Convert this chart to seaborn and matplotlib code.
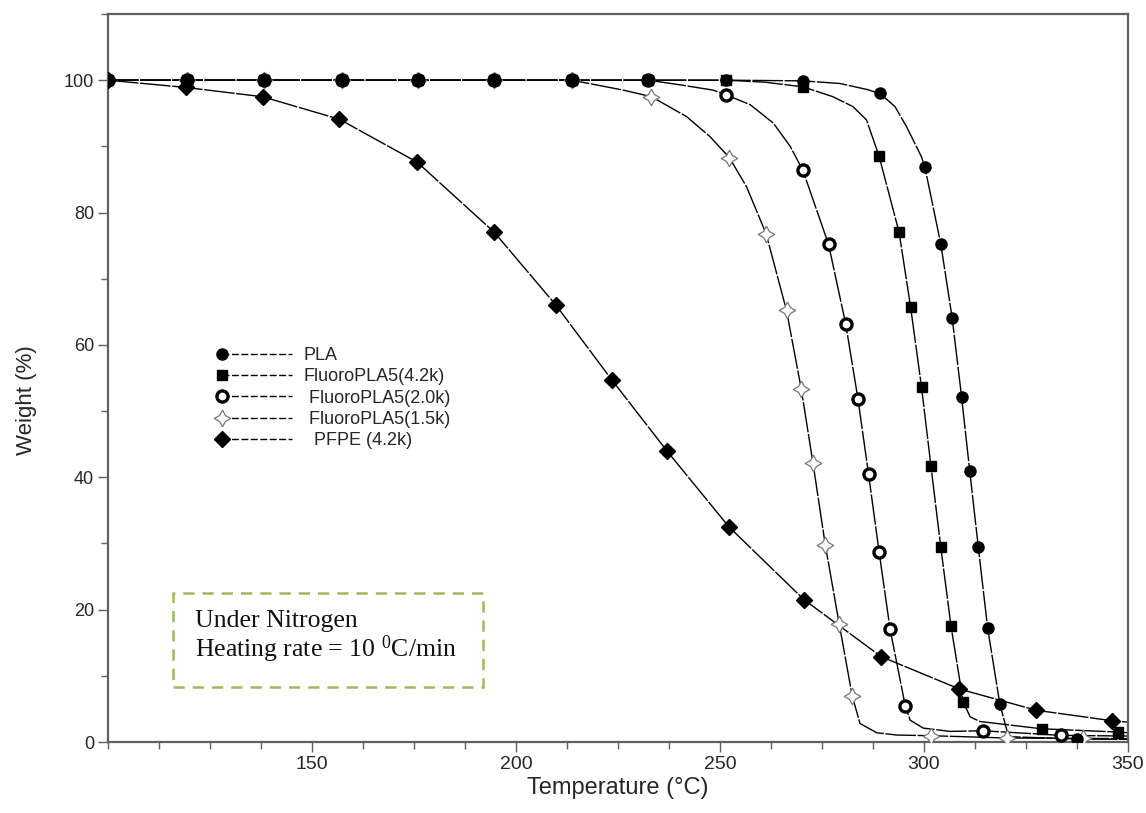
import numpy as np
import pandas as pd
import matplotlib
matplotlib.use("Agg")
import matplotlib.pyplot as plt
import seaborn as sns
from matplotlib.lines import Line2D
from matplotlib.patches import Rectangle
from matplotlib.legend_handler import HandlerLine2D
from matplotlib.ticker import MultipleLocator, FixedLocator
from matplotlib import font_manager

# ---------------- data ----------------
series_names = ["PLA", "FluoroPLA5(4.2k)", "FluoroPLA5(2.0k)", "FluoroPLA5(1.5k)", "PFPE (4.2k)"]

pla_mark_T = [100, 119.4, 138.2, 157.4, 176.0, 194.6, 213.7, 232.4, 251.5, 270.3, 289.2, 300.2, 304.1,
              306.9, 309.2, 311.2, 313.3, 315.6, 318.6, 337.5]
pla_mark_W = [100, 100, 100, 100, 100, 100, 100, 100, 100, 99.9, 98.0, 86.9, 75.3,
              64.1, 52.2, 41.0, 29.5, 17.2, 5.7, 0.45]
pla_extra_T = [279.4, 286.0, 292.9, 295.7, 299.4, 320.3, 321.1, 350.0]
pla_extra_W = [99.5, 98.6, 96.0, 93.0, 88.4, 1.8, 0.8, 0.4]

f42_mark_T = [100, 119.4, 138.2, 157.4, 176.0, 194.6, 213.7, 232.4, 251.5, 270.3, 289.0, 293.9, 296.7,
              299.4, 301.7, 304.1, 306.6, 309.6, 328.8, 347.6]
f42_mark_W = [100, 100, 100, 100, 100, 100, 100, 100, 100, 99.0, 88.5, 77.0, 65.8,
              53.6, 41.7, 29.5, 17.6, 6.1, 2.0, 1.5]
f42_extra_T = [261.0, 277.7, 282.6, 285.9, 311.3, 313.7, 350.0]
f42_extra_W = [99.7, 97.5, 96.0, 94.0, 3.8, 3.1, 1.4]

f20_mark_T = [100, 119.4, 138.2, 157.4, 176.0, 194.6, 213.7, 232.4, 251.4, 270.3, 276.6, 280.8, 283.8,
              286.4, 289.0, 291.7, 295.4, 314.4, 333.6]
f20_mark_W = [100, 100, 100, 100, 100, 100, 100, 100, 97.8, 86.4, 75.2, 63.2, 51.9,
              40.5, 28.7, 17.0, 5.5, 1.7, 1.0]
f20_extra_T = [240.2, 248.3, 257.4, 263.1, 267.2, 296.6, 299.8, 306.4, 350.0]
f20_extra_W = [99.3, 98.5, 96.3, 93.5, 90.0, 3.3, 2.1, 1.6, 0.9]

f15_mark_T = [100, 119.4, 138.2, 157.4, 176.0, 194.6, 213.7, 233.2, 252.3, 261.3, 266.3, 269.9, 272.8,
              275.8, 279.2, 282.4, 301.7, 320.3, 338.9]
f15_mark_W = [100, 100, 100, 100, 100, 100, 100, 97.5, 88.3, 76.8, 65.2, 53.4, 42.1,
              29.8, 17.9, 7.0, 0.95, 0.6, 0.55]
f15_extra_T = [226.3, 241.8, 247.5, 256.5, 284.3, 288.4, 293.3, 350.0]
f15_extra_W = [98.5, 94.5, 91.5, 83.9, 2.8, 1.4, 1.05, 0.5]

pfpe_mark_T = [100, 119.1, 137.9, 156.7, 175.8, 194.7, 209.8, 223.5, 237.1, 252.2, 270.6, 289.5,
               308.7, 327.5, 346.2]
pfpe_mark_W = [100, 98.9, 97.5, 94.1, 87.6, 77.0, 66.0, 54.7, 43.9, 32.5, 21.5, 12.9,
               8.0, 4.8, 3.2]
pfpe_extra_T = [350.0]
pfpe_extra_W = [3.0]

x_major_ticks = [150, 200, 250, 300, 350]
y_major_ticks = [0, 20, 40, 60, 80, 100]
note_lines = ["Under Nitrogen", "Heating rate = 10 $^{0}$C/min"]

# ---------------- styling ----------------
sns.set_style("ticks")
names = {f.name for f in font_manager.fontManager.ttflist}
narrow = "Liberation Sans Narrow" if "Liberation Sans Narrow" in names else "Liberation Sans"
plt.rcParams["font.family"] = ["Liberation Sans", "DejaVu Sans"]
plt.rcParams["mathtext.fontset"] = "custom"
plt.rcParams["mathtext.rm"] = "Liberation Serif"
plt.rcParams["mathtext.it"] = "Liberation Serif:italic"
plt.rcParams["mathtext.bf"] = "Liberation Serif:bold"

marker_styles = {
    "PLA": dict(marker="o", ms=8, mfc="black", mec="black", mew=1.0),
    "FluoroPLA5(4.2k)": dict(marker="s", ms=7.5, mfc="black", mec="black", mew=1.0),
    "FluoroPLA5(2.0k)": dict(marker="o", ms=8, mfc="white", mec="black", mew=2.4),
    "FluoroPLA5(1.5k)": dict(marker=(4, 1, 0), ms=12, mfc="white", mec="#777777", mew=0.9),
    "PFPE (4.2k)": dict(marker="D", ms=8, mfc="black", mec="black", mew=1.0),
}

marks = {
    "PLA": (pla_mark_T, pla_mark_W, pla_extra_T, pla_extra_W),
    "FluoroPLA5(4.2k)": (f42_mark_T, f42_mark_W, f42_extra_T, f42_extra_W),
    "FluoroPLA5(2.0k)": (f20_mark_T, f20_mark_W, f20_extra_T, f20_extra_W),
    "FluoroPLA5(1.5k)": (f15_mark_T, f15_mark_W, f15_extra_T, f15_extra_W),
    "PFPE (4.2k)": (pfpe_mark_T, pfpe_mark_W, pfpe_extra_T, pfpe_extra_W),
}

rows = []
for name, (mt, mw, et, ew) in marks.items():
    for t, w in zip(list(mt) + list(et), list(mw) + list(ew)):
        rows.append((name, t, w))
line_df = pd.DataFrame(rows, columns=["series", "T", "W"]).sort_values(["series", "T"])

fig = plt.figure(figsize=(11.46, 8.13), dpi=100)
ax = fig.add_axes([108 / 1146, 1 - 742 / 813, 1020 / 1146, 728 / 813])

sns.lineplot(data=line_df, x="T", y="W", units="series", estimator=None, sort=True,
             color="black", lw=1.0, ax=ax, legend=False, zorder=2)
for ln in ax.lines:
    ln.set_linestyle((0, (22, 1.2)))

draw_order = ["FluoroPLA5(1.5k)", "FluoroPLA5(2.0k)", "PFPE (4.2k)", "FluoroPLA5(4.2k)", "PLA"]
for z, name in enumerate(draw_order):
    mt, mw, _, _ = marks[name]
    ax.plot(mt, mw, ls="none", zorder=3 + z, **marker_styles[name])

ax.set_xlim(100, 350)
ax.set_ylim(0, 110)
ax.xaxis.set_major_locator(FixedLocator(x_major_ticks))
ax.xaxis.set_minor_locator(MultipleLocator(12.5))
ax.yaxis.set_major_locator(FixedLocator(y_major_ticks))
ax.yaxis.set_minor_locator(MultipleLocator(10))

for s in ax.spines.values():
    s.set_visible(True)
    s.set_color("#606060")
    s.set_linewidth(1.6)
ax.tick_params(axis="both", which="major", direction="out", length=7, width=1.0, color="#606060")
ax.tick_params(axis="both", which="minor", direction="out", length=5, width=1.0, color="#606060")
ax.tick_params(axis="x", which="major", labelsize=14, pad=3)
ax.tick_params(axis="y", which="major", labelsize=13, pad=3)
for lab in ax.get_xticklabels():
    lab.set_family([narrow, "DejaVu Sans"])

ax.set_xlabel("Temperature (\u00b0C)", fontsize=17, family=[narrow, "DejaVu Sans"], labelpad=3)
ax.set_ylabel("Weight (%)", fontsize=16, family=[narrow, "DejaVu Sans"], labelpad=14)
ax.yaxis.set_label_coords(-0.07, 0.47)


class LeftMarkerHandler(HandlerLine2D):
    def create_artists(self, *args, **kwargs):
        arts = super().create_artists(*args, **kwargs)
        for a in arts:
            a.set_markevery([0])
        return arts


handles = []
for name in series_names:
    st = dict(marker_styles[name])
    handles.append(Line2D([0, 1], [0, 1], color="black", lw=1.0, ls=(0, (5, 1.8)), **st))
labels = ["PLA", "FluoroPLA5(4.2k)", " FluoroPLA5(2.0k)", " FluoroPLA5(1.5k)", "  PFPE (4.2k)"]
leg = ax.legend(handles, labels, loc="center left", bbox_to_anchor=(0.106, 0.4725),
                frameon=False, fontsize=13, numpoints=2, handlelength=4.5,
                handletextpad=0.35, labelspacing=0.24, borderpad=0, borderaxespad=0,
                handler_map={Line2D: LeftMarkerHandler(numpoints=2)})

# annotation box
ax.add_patch(Rectangle((116.0, 8.3), 75.8, 14.2, fill=False, edgecolor="#9BBB59",
                       lw=1.8, ls=(0, (4.5, 3.2)), zorder=1))
ax.text(121.3, 17.4, note_lines[0], fontsize=18.5, family=["Liberation Serif", "DejaVu Serif"],
        va="baseline", ha="left", color="#111111")
ax.text(121.3, 12.9, note_lines[1], fontsize=18.5, family=["Liberation Serif", "DejaVu Serif"],
        va="baseline", ha="left", color="#111111")

fig.savefig("out.png", dpi=100)
